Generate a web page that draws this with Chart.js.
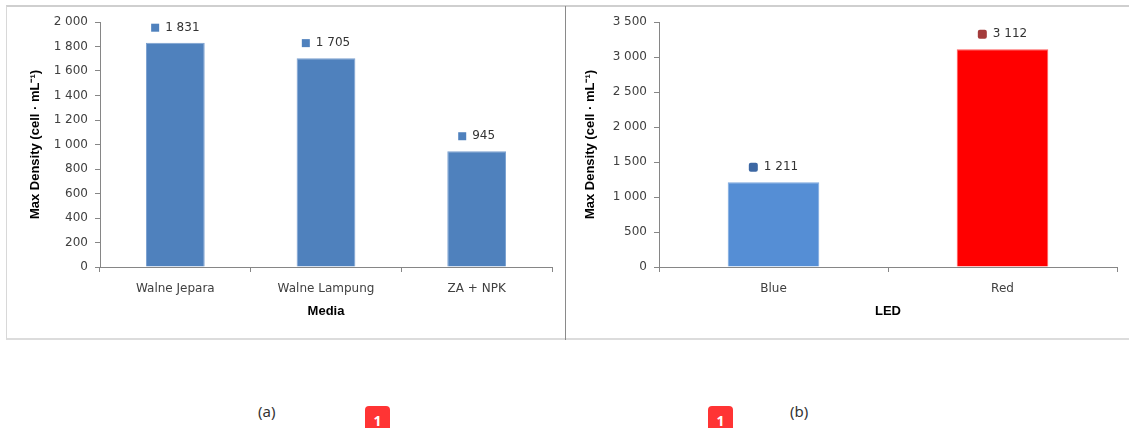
<!DOCTYPE html>
<html>
<head>
<meta charset="utf-8">
<script src="https://cdn.jsdelivr.net/npm/chart.js@4/dist/chart.umd.min.js"></script>
<style>
    body { margin: 0; background: #fff; width: 1129px; height: 428px; position: relative; overflow: hidden; }
    .frame { position: absolute; left: 6px; top: 5px; width: 1130px; height: 335px; border-top: 2px solid #cfcfcf; border-left: 1px solid #d8d8d8; border-bottom: 2px solid #dcdcdc; box-sizing: border-box; }
    .divider { position: absolute; left: 565px; top: 6px; width: 1px; height: 334px; background: #8a8a8a; }
    #mediaBox { position: absolute; left: 8px; top: 6px; width: 556px; height: 330px; }
    #ledBox { position: absolute; left: 568px; top: 6px; width: 558px; height: 330px; }
    .caption { position: absolute; top: 401px; font-family: "Noto Sans", sans-serif; font-size: 15px; color: #333; }
    .badge { position: absolute; top: 406px; width: 25px; height: 26px; background: #ff3434; border-radius: 4px; color: #fff; font-family: "Noto Sans", sans-serif; font-size: 14px; font-weight: bold; text-align: center; line-height: 30px; }
</style>
</head>
<body>
<div class="frame"></div>
<div class="divider"></div>
<div id="mediaBox"><canvas id="media"></canvas></div>
<div id="ledBox"><canvas id="led"></canvas></div>
<div class="caption" style="left:258px">(a)</div>
<div class="badge" style="left:365px">1</div>
<div class="badge" style="left:708px">1</div>
<div class="caption" style="left:790px">(b)</div>

<script>
// data
const mediaLabels = ["Walne Jepara", "Walne Lampung", "ZA + NPK"];
const mediaValues = [1831, 1705, 945];
const mediaTicks = [0, 200, 400, 600, 800, 1000, 1200, 1400, 1600, 1800, 2000];

const ledLabels = ["Blue", "Red"];
const ledValues = [1211, 3112];
const ledTicks = [0, 500, 1000, 1500, 2000, 2500, 3000, 3500];

const tickFont = { family: "'DejaVu Sans', sans-serif", size: 12 };
const titleFont = { family: "'Liberation Sans', sans-serif", size: 13, weight: "bold" };

function spaced(v) {
    return String(v).replace(/\B(?=(\d{3})+(?!\d))/g, " ");
}

// little key square + value above each bar, like the Excel labels
const valueLabels = {
    id: "valueLabels",
    afterDatasetsDraw(chart, args, opts) {
        const ctx = chart.ctx;
        const meta = chart.getDatasetMeta(0);
        ctx.save();
        ctx.font = "12px 'DejaVu Sans', sans-serif";
        ctx.textBaseline = "middle";
        meta.data.forEach(function (bar, i) {
            const txt = spaced(chart.data.datasets[0].data[i]);
            const tw = ctx.measureText(txt).width;
            const sq = opts.size;
            const total = sq + opts.gap + tw;
            const x0 = bar.x - total / 2;
            const y = bar.y - opts.lift;
            ctx.fillStyle = opts.keys[i];
            if (opts.round) {
                ctx.beginPath();
                ctx.roundRect(x0, y - sq / 2, sq, sq, 2);
                ctx.fill();
            } else {
                ctx.fillRect(x0, y - sq / 2, sq, sq);
            }
            ctx.fillStyle = "#333";
            ctx.textAlign = "left";
            ctx.fillText(txt, x0 + sq + opts.gap, y);
        });
        ctx.restore();
    },
};

function options(ticks, yWidth, rightPad, xTitle, yTitlePad, keys, round) {
    return {
        responsive: true,
        maintainAspectRatio: false,
        animation: false,
        layout: { padding: { top: 16, right: rightPad, left: 0, bottom: 0 } },
        scales: {
            x: {
                grid: { display: true, offset: true, drawOnChartArea: false, tickLength: 5, color: "#868686" },
                border: { color: "#868686" },
                ticks: { font: tickFont, color: "#404040", padding: 10 },
                title: { display: true, text: xTitle, font: titleFont, color: "#000", padding: { top: 4, bottom: 17 } },
                afterFit: function (scale) { scale.height = 69; },
            },
            y: {
                min: ticks[0],
                max: ticks[ticks.length - 1],
                afterBuildTicks: function (scale) {
                    scale.ticks = ticks.map(function (v) { return { value: v }; });
                },
                grid: { drawOnChartArea: false, tickLength: 5, color: "#868686" },
                border: { color: "#868686" },
                ticks: {
                    font: tickFont,
                    color: "#404040",
                    padding: 7,
                    callback: function (value) { return spaced(value); },
                },
                title: { display: true, text: "Max Density (cell · mL⁻¹)", font: titleFont, color: "#000", padding: yTitlePad },
                afterFit: function (scale) { scale.width = yWidth; },
            },
        },
        plugins: {
            legend: { display: false },
            tooltip: { enabled: false },
            valueLabels: { keys: keys, size: round ? 9 : 8, gap: 6, lift: 15, round: round },
        },
    };
}

new Chart(document.getElementById("media"), {
    type: "bar",
    data: {
        labels: mediaLabels,
        datasets: [
            {
                data: mediaValues,
                backgroundColor: "#4F81BD",
                borderColor: "#7aa0d0",
                borderWidth: 1,
                categoryPercentage: 1,
                barPercentage: 0.39,
            },
        ],
    },
    options: options(mediaTicks, 92, 12, "Media", { top: 20, bottom: 0 }, ["#4F81BD", "#4F81BD", "#4F81BD"], false),
    plugins: [valueLabels],
});

new Chart(document.getElementById("led"), {
    type: "bar",
    data: {
        labels: ledLabels,
        datasets: [
            {
                data: ledValues,
                backgroundColor: ["#558ED5", "#FF0000"],
                borderColor: ["#7aa6de", "#ff5a5a"],
                borderWidth: 1,
                categoryPercentage: 1,
                barPercentage: 0.4,
            },
        ],
    },
    options: options(ledTicks, 91, 9, "LED", { top: 15, bottom: 0 }, ["#3c67a3", "#a33b3b"], true),
    plugins: [valueLabels],
});
</script>
</body>
</html>
